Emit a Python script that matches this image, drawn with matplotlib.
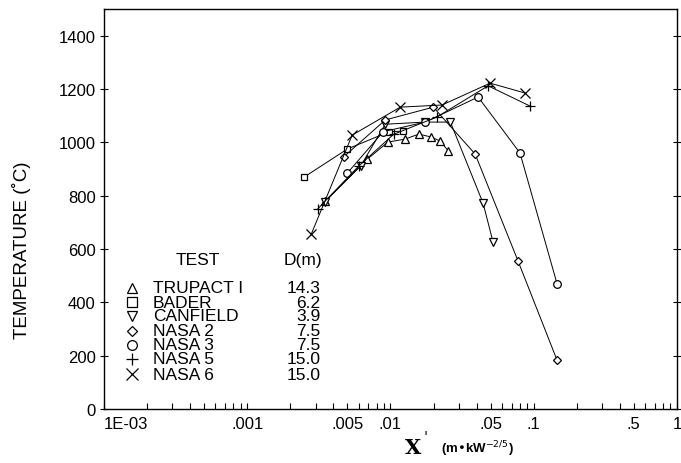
import numpy as np
import matplotlib
matplotlib.use("Agg")
import matplotlib.pyplot as plt
from matplotlib.ticker import FixedLocator, LogLocator, NullFormatter

plt.rcParams['font.family'] = ['Liberation Sans', 'DejaVu Sans']

# data: X' (m kW^-2/5) vs temperature (C)
trupact_x = [0.0035, 0.0069, 0.0096, 0.0126, 0.0158, 0.0192, 0.0222, 0.0254]
trupact_t = [780, 937, 1001, 1012, 1031, 1020, 1005, 967]

bader_x = [0.0025, 0.0050, 0.0098, 0.0123]
bader_t = [870, 975, 1040, 1042]

canfield_x = [0.0035, 0.0062, 0.0092, 0.0175, 0.0262, 0.0443, 0.0520]
canfield_t = [778, 912, 1068, 1076, 1076, 772, 626]

nasa2_x = [0.0047, 0.0092, 0.0199, 0.0390, 0.0777, 0.1450]
nasa2_t = [945, 1084, 1132, 956, 555, 185]

nasa3_x = [0.0050, 0.0089, 0.0175, 0.0409, 0.0802, 0.1454]
nasa3_t = [885, 1040, 1076, 1170, 960, 470]

nasa5_x = [0.0031, 0.0060, 0.0105, 0.0211, 0.0480, 0.0943]
nasa5_t = [750, 911, 1030, 1095, 1212, 1136]

nasa6_x = [0.0028, 0.0054, 0.0117, 0.0229, 0.0496, 0.0869]
nasa6_t = [656, 1027, 1132, 1140, 1222, 1185]

tests = ["TRUPACT I", "BADER", "CANFIELD", "NASA 2", "NASA 3", "NASA 5", "NASA 6"]
diam = ["14.3", "6.2", "3.9", "7.5", "7.5", "15.0", "15.0"]

xtick_vals = [1e-4, 1e-3, 5e-3, 1e-2, 5e-2, 0.1, 0.5, 1]
xtick_labels = ["1E-03", ".001", ".005", ".01", ".05", ".1", ".5", "1"]
ytick_vals = [0, 200, 400, 600, 800, 1000, 1200, 1400]

series = [
    (trupact_x, trupact_t, "^"),
    (bader_x, bader_t, "s"),
    (canfield_x, canfield_t, "v"),
    (nasa2_x, nasa2_t, "D"),
    (nasa3_x, nasa3_t, "o"),
    (nasa5_x, nasa5_t, "+"),
    (nasa6_x, nasa6_t, "x"),
]
msizes = {"^": 5.5, "s": 5, "v": 5.5, "D": 3.8, "o": 5.5, "+": 7.5, "x": 6.5}

fig = plt.figure(figsize=(6.81, 4.64), dpi=100)
ax = fig.add_axes([0.1527, 0.1164, 0.8414, 0.862])

for xs, ts, m in series:
    ax.plot(xs, ts, color="black", lw=0.7, marker=m, ms=msizes[m],
            mfc="white", mec="black", mew=0.9)

ax.set_xscale("log")
ax.set_xlim(1e-4, 1)
ax.set_ylim(0, 1500)

ax.xaxis.set_major_locator(FixedLocator(xtick_vals))
ax.set_xticklabels(xtick_labels)
ax.xaxis.set_minor_locator(LogLocator(base=10, subs=np.arange(2, 10)))
ax.xaxis.set_minor_formatter(NullFormatter())
ax.tick_params(axis="x", which="both", direction="in", length=4, width=0.8,
               labelsize=12, pad=5)
ax.get_xticklabels()[0].set_horizontalalignment("left")

ax.set_yticks(ytick_vals)
ax.tick_params(axis="y", which="major", direction="inout", length=6, width=0.8,
               labelsize=12, right=True, pad=3)

for s in ax.spines.values():
    s.set_linewidth(1.0)

ax.set_ylabel("TEMPERATURE (\u02daC)", fontsize=13.5, labelpad=12)
ax.yaxis.set_label_coords(-0.128, 0.40)

# x label
fig.text(0.594, 0.022, "X", fontsize=15, family="DejaVu Serif", weight="bold",
         ha="left", va="baseline")
fig.text(0.622, 0.048, "'", fontsize=11, family="DejaVu Serif", ha="left",
         va="baseline")
fig.text(0.648, 0.024, "(m\u2022kW$^{-2/5}$)", fontsize=9.5, weight="bold",
         ha="left", va="baseline")

# legend table drawn as text
fs = 12.5
ax.text(4.5e-4, 562, "TEST", fontsize=fs, ha="center", va="center")
ax.text(2.46e-3, 562, "D(m)", fontsize=fs, ha="center", va="center")
row_t = [454, 401, 349, 293, 240, 188, 131]
for (xs, ts, m), name, d, yt in zip(series, tests, diam, row_t):
    ax.plot([1.58e-4], [yt], marker=m, ms=msizes[m] + 1.5, mfc="white",
            mec="black", mew=0.9, color="black", ls="none")
    ax.text(2.2e-4, yt, name, fontsize=fs, ha="left", va="center")
    ax.text(3.25e-3, yt, d, fontsize=fs, ha="right", va="center")

fig.savefig("out.png", dpi=100)
